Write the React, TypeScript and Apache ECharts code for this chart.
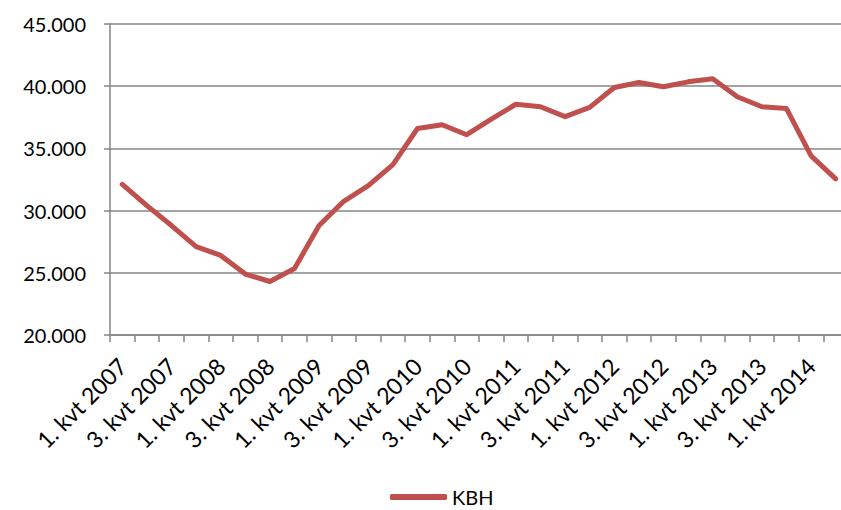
import React, { useEffect, useRef } from "react";
import * as echarts from "echarts";

const categories: string[] = [];
const years = [2007, 2008, 2009, 2010, 2011, 2012, 2013, 2014];
for (const y of years) {
  for (const q of [1, 2, 3, 4]) {
    if (y === 2014 && q > 2) break;
    categories.push(`${q}. kvt ${y}`);
  }
}

const kbhValues = [
  32100, 30400, 28800, 27100, 26400, 24900, 24300, 25350, 28800, 30750,
  32000, 33700, 36600, 36900, 36100, 37350, 38550, 38350, 37550, 38300,
  39900, 40300, 39950, 40350, 40600, 39150, 38350, 38200, 34400, 32550,
];

const seriesName = "KBH";
const yMin = 20000;
const yMax = 45000;
const yInterval = 5000;

const fmt = (v: number) => {
  const s = String(Math.round(v));
  return s.replace(/\B(?=(\d{3})+(?!\d))/g, ".");
};

export default function App() {
  const ref = useRef<HTMLDivElement>(null);
  useEffect(() => {
    document.body.style.margin = "0";
    const chart = echarts.init(ref.current!, undefined, { renderer: "svg" });
    const font = "Lato, 'Open Sans', sans-serif";
    chart.setOption({
      animation: false,
      backgroundColor: "#ffffff",
      grid: { left: 110, top: 24, right: 0, bottom: 175 },
      legend: {
        data: [{ name: seriesName, icon: "roundRect" }],
        left: 390,
        top: 487,
        padding: 0,
        itemWidth: 57,
        itemHeight: 6,
        itemGap: 6,
        textStyle: { fontFamily: font, fontSize: 20, lineHeight: 20, color: "#000", padding: [0, 0, 0, 0] },
      },
      xAxis: {
        type: "category",
        data: categories,
        boundaryGap: true,
        axisLine: { show: true, lineStyle: { color: "#868686", width: 1.5 } },
        axisTick: { show: true, interval: 0, length: 7, lineStyle: { color: "#868686", width: 1.5 } },
        axisLabel: {
          interval: 1,
          rotate: 45,
          margin: 27,
          fontFamily: font,
          fontSize: 23,
          color: "#000",
        },
        splitLine: { show: false },
      },
      yAxis: {
        type: "value",
        min: yMin,
        max: yMax,
        interval: yInterval,
        axisLine: { show: true, lineStyle: { color: "#868686", width: 1.5 } },
        axisTick: { show: true, length: 6, lineStyle: { color: "#868686", width: 1.5 } },
        axisLabel: {
          formatter: (v: number) => fmt(v),
          fontFamily: font,
          fontSize: 20,
          color: "#000",
          margin: 24,
        },
        splitLine: { show: true, lineStyle: { color: "#868686", width: 1.5 } },
      },
      series: [
        {
          name: seriesName,
          type: "line",
          data: kbhValues,
          symbol: "none",
          lineStyle: { color: "#C0504D", width: 5, cap: "round", join: "round" },
          itemStyle: { color: "#C0504D" },
        },
      ],
    });
    return () => chart.dispose();
  }, []);
  return (
    <div style={{ position: "fixed", left: 0, top: 0, width: 841, height: 510, overflow: "hidden" }}>
      <div ref={ref} style={{ width: 848, height: 510 }} />
    </div>
  );
}
